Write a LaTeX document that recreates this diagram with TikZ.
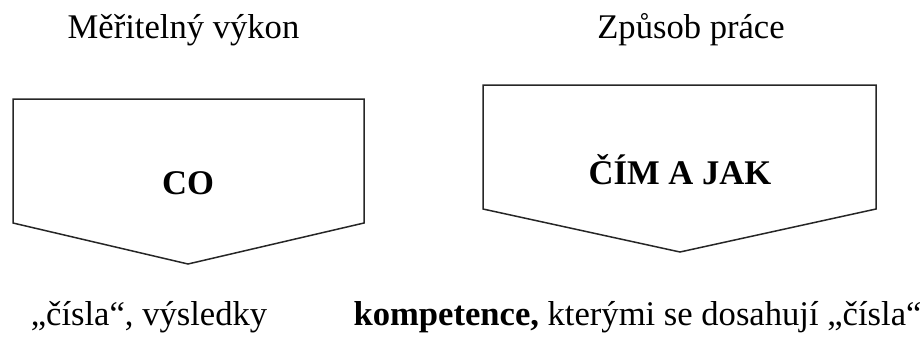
\documentclass[tikz,border=0pt]{standalone}
\usepackage{fontspec}
\setmainfont{Liberation Serif}
\usepackage{tikz}
\tikzstyle{arrowbox} = [draw=black!85, line width=0.75pt, line join=miter]
\tikzstyle{caption} = [font={\fontsize{17.3}{20}\selectfont}, inner sep=0pt]
\tikzstyle{key} = [caption, font={\fontsize{17.3}{20}\selectfont\bfseries}]

\begin{document}
\begin{tikzpicture}[x=0.5pt,y=-0.5pt]
        \useasboundingbox (0,0) rectangle (923,343);
        % the two downward pointing boxes
        \draw[arrowbox] (13,99) -- (364,99) -- (364,223) -- (188,264) -- (13,223) -- cycle;
        \draw[arrowbox] (483,85) -- (876,85) -- (876,209) -- (680,252) -- (483,209) -- cycle;
        \node[key](co) at (188,183){CO};
        \node[key](jak) at (680,170){ČÍM A JAK};
        % headings above and notes below
        \node[caption](vykon) at (183.5,30){Měřitelný výkon};
        \node[caption](prace) at (691,30){Způsob práce};
        \node[caption](cisla) at (149,317){„čísla“, výsledky};
        \node[caption](komp) at (637.5,317){\textbf{kompetence,} kterými se dosahují „čísla“};
      \end{tikzpicture}
\end{document}
